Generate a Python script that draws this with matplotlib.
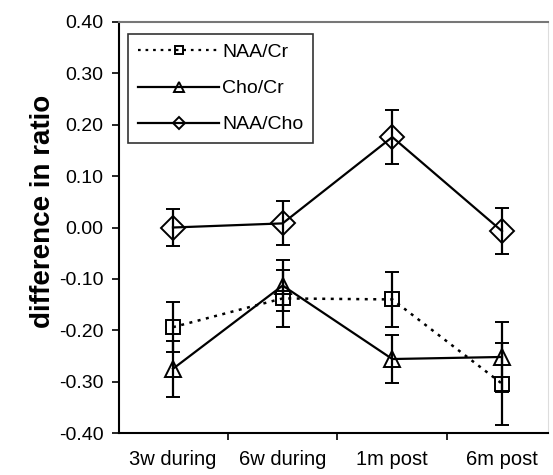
import matplotlib.pyplot as plt
from matplotlib.lines import Line2D

plt.rcParams['font.family'] = ['Liberation Sans', 'DejaVu Sans']

categories = ['3w during', '6w during', '1m post', '6m post']

naa_cr = [-0.194, -0.138, -0.140, -0.304]
naa_cr_err = [0.049, 0.055, 0.053, 0.080]

cho_cr = [-0.275, -0.113, -0.256, -0.252]
cho_cr_err = [0.055, 0.050, 0.046, 0.068]

naa_cho = [0.000, 0.008, 0.176, -0.007]
naa_cho_err = [0.036, 0.043, 0.052, 0.045]

x = list(range(1, len(categories) + 1))

fig = plt.figure(figsize=(5.53, 4.75), dpi=100)
ax = fig.add_axes([0.2152, 0.0884, 0.7758, 0.8653])

common = dict(color='black', capsize=4.8, elinewidth=1.6, capthick=1.6,
              markerfacecolor='none', markeredgecolor='black',
              markeredgewidth=1.4)

dotted = (0, (1.2, 2.2))
ax.errorbar(x, naa_cr, yerr=naa_cr_err, linestyle=dotted, linewidth=1.8,
            marker='s', markersize=10, **common)
ax.errorbar(x, cho_cr, yerr=cho_cr_err, linestyle='-', linewidth=1.6,
            marker='^', markersize=12, **common)
ax.errorbar(x, naa_cho, yerr=naa_cho_err, linestyle='-', linewidth=1.6,
            marker='D', markersize=12, **common)

ax.set_xlim(0.508, 4.42)
ax.set_ylim(-0.40, 0.40)
yticks = [-0.40, -0.30, -0.20, -0.10, 0.00, 0.10, 0.20, 0.30, 0.40]
ax.set_yticks(yticks)
ax.set_yticklabels(['%.2f' % v for v in yticks], fontsize=14)

# category labels sit between the tick marks
ax.set_xticks([1.5, 2.5, 3.5])
ax.set_xticklabels([])
ax.set_xticks(x, minor=True)
ax.set_xticklabels(categories, minor=True, fontsize=14.5)
ax.tick_params(axis='x', which='minor', length=0, pad=12)
ax.tick_params(axis='x', which='major', length=5, width=1.2, direction='out')
ax.tick_params(axis='y', length=5, width=1.2, direction='out', pad=6)

ax.set_ylabel('difference in ratio', fontsize=20, fontweight='bold')
ax.yaxis.set_label_coords(-0.148, 0.54)

ax.spines['left'].set_linewidth(1.5)
ax.spines['bottom'].set_linewidth(1.5)
ax.spines['top'].set_color('#777777')
ax.spines['top'].set_linewidth(1.5)
ax.spines['right'].set_color('#dddddd')
ax.spines['right'].set_linewidth(0.8)

handles = [
    Line2D([], [], color='black', linestyle=dotted, linewidth=1.6, marker='s',
           markersize=6, markerfacecolor='none', markeredgewidth=1.4),
    Line2D([], [], color='black', linestyle='-', linewidth=1.6, marker='^',
           markersize=7, markerfacecolor='none', markeredgewidth=1.4),
    Line2D([], [], color='black', linestyle='-', linewidth=1.6, marker='D',
           markersize=6.5, markerfacecolor='none', markeredgewidth=1.4),
]
leg = ax.legend(handles, ['NAA/Cr', 'Cho/Cr', 'NAA/Cho'], loc='upper left',
                bbox_to_anchor=(0.021, 0.971), fontsize=14,
                frameon=True, fancybox=False, edgecolor='black',
                handlelength=4.2, borderpad=0.5, labelspacing=0.95,
                handletextpad=0.15, borderaxespad=0)
leg.get_frame().set_linewidth(1.2)

fig.savefig('out.png', dpi=100)
